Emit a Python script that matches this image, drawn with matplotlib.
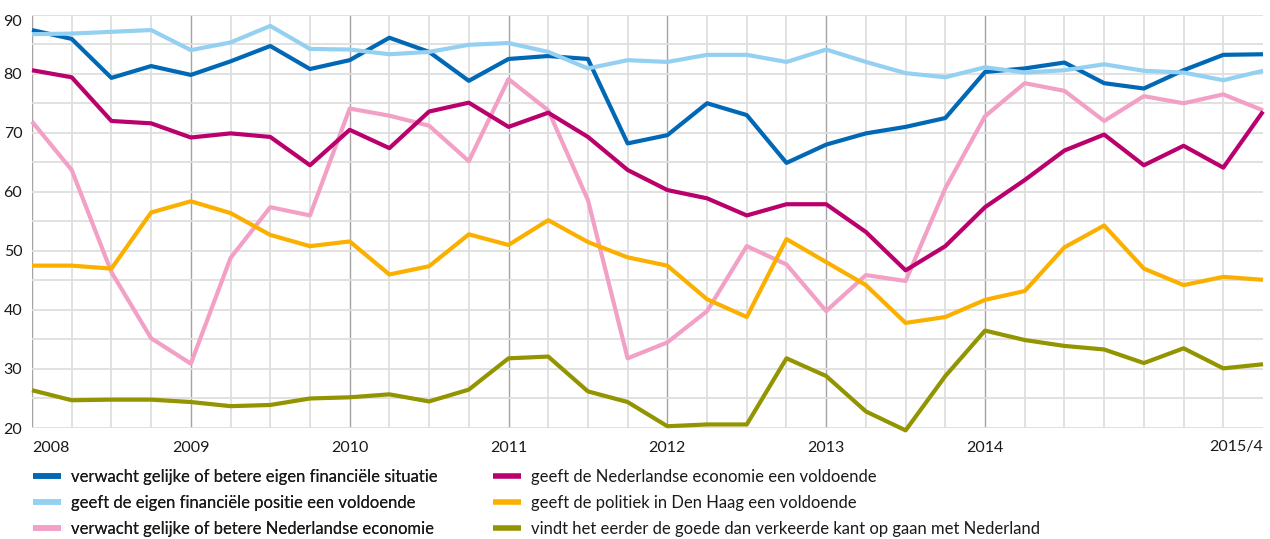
import numpy as np
import matplotlib
matplotlib.use('Agg')
from matplotlib import pyplot as plt
from matplotlib.lines import Line2D

plt.rcParams['font.family'] = ['Lato', 'DejaVu Sans']

# quarters 2008/1 .. 2015/4
periods = [f'{y}/{q}' for y in range(2008, 2016) for q in range(1, 5)]
tick_labels = ['2008', '2009', '2010', '2011', '2012', '2013', '2014', '2015/4']
tick_periods = ['2008/1', '2009/1', '2010/1', '2011/1', '2012/1', '2013/1', '2014/1', '2015/4']

eigen_situatie = [87.4, 85.9, 79.3, 81.3, 79.8, 82.1, 84.7, 80.8,
                  82.3, 86.1, 83.7, 78.8, 82.5, 83.0, 82.5, 68.2,
                  69.6, 75.0, 73.0, 64.9, 68.0, 69.9, 71.0, 72.5,
                  80.3, 80.9, 81.9, 78.4, 77.5, 80.6, 83.2, 83.3]
eigen_positie = [86.7, 86.8, 87.1, 87.4, 84.0, 85.3, 88.1, 84.2,
                 84.1, 83.3, 83.7, 84.9, 85.2, 83.7, 80.9, 82.3,
                 82.0, 83.2, 83.2, 82.0, 84.1, 82.0, 80.1, 79.4,
                 81.1, 80.2, 80.6, 81.6, 80.5, 80.2, 78.9, 80.5]
nl_economie_verwacht = [71.9, 63.7, 46.4, 35.2, 30.9, 48.8, 57.4, 56.0,
                        74.1, 72.9, 71.2, 65.2, 79.1, 73.8, 58.6, 31.8,
                        34.5, 39.8, 50.8, 47.7, 39.8, 45.9, 44.9, 60.6,
                        72.8, 78.4, 77.1, 72.0, 76.2, 75.0, 76.5, 73.8]
nl_economie_voldoende = [80.6, 79.4, 72.0, 71.6, 69.2, 69.9, 69.3, 64.5,
                         70.5, 67.4, 73.6, 75.1, 71.0, 73.4, 69.3, 63.7,
                         60.3, 58.9, 56.0, 57.9, 57.9, 53.2, 46.7, 50.8,
                         57.4, 62.0, 67.0, 69.7, 64.5, 67.8, 64.1, 73.6]
politiek = [47.5, 47.5, 47.0, 56.5, 58.4, 56.4, 52.7, 50.8,
            51.6, 46.0, 47.4, 52.8, 51.0, 55.2, 51.5, 48.9,
            47.5, 41.8, 38.8, 52.0, 48.1, 44.2, 37.8, 38.8,
            41.7, 43.2, 50.6, 54.3, 47.0, 44.2, 45.6, 45.1]
goede_kant = [26.4, 24.7, 24.8, 24.8, 24.4, 23.7, 23.9, 25.0,
              25.2, 25.7, 24.5, 26.5, 31.8, 32.1, 26.2, 24.4,
              20.3, 20.6, 20.6, 31.8, 28.8, 22.8, 19.6, 28.8,
              36.5, 34.9, 33.9, 33.3, 31.0, 33.5, 30.1, 30.8]

labels = [
    'verwacht gelijke of betere eigen financiële situatie',
    'geeft de eigen financiële positie een voldoende',
    'verwacht gelijke of betere Nederlandse economie',
    'geeft de Nederlandse economie een voldoende',
    'geeft de politiek in Den Haag een voldoende',
    'vindt het eerder de goede dan verkeerde kant op gaan met Nederland',
]
series = [eigen_situatie, eigen_positie, nl_economie_verwacht,
          nl_economie_voldoende, politiek, goede_kant]
colors = ['#0068b4', '#94d0f2', '#f2a0c6', '#b9006c', '#fbb000', '#929400']

grid_light = '#dedede'
grid_dark = '#a8a2a6'
text_col = '#1a1a1a'

fig = plt.figure(figsize=(12.7, 5.39), dpi=100)
ax = fig.add_axes([32 / 1270, 1 - 428 / 539, 1231 / 1270, 413.3 / 539])

x = np.arange(len(periods))
for vals, col in zip(series, colors):
    ax.plot(x, vals, color=col, lw=3, solid_capstyle='butt', clip_on=False, zorder=3)

ax.set_xlim(0, len(periods) - 1)
ax.set_ylim(20, 90)

# grid: light lines every quarter and every 5 points, darker line at each year
ax.set_xticks(x, minor=True)
ax.set_yticks(np.arange(20, 91, 10))
ax.set_yticks(np.arange(25, 90, 10), minor=True)
ax.grid(which='both', axis='y', color=grid_light, lw=1.3, zorder=0)
ax.grid(which='minor', axis='x', color=grid_light, lw=1.3, zorder=0)
year_pos = [periods.index(p) for p in tick_periods[:-1]]
ax.vlines(year_pos, 20, 90, color=grid_dark, lw=1.0, zorder=1)

tick_pos = [periods.index(p) for p in tick_periods]
ax.set_xticks(tick_pos)
ax.set_xticklabels(tick_labels)
xt = ax.get_xticklabels()
xt[0].set_ha('left')
xt[-1].set_ha('right')

ax.tick_params(axis='both', which='both', length=0, labelsize=11.5, labelcolor=text_col)
ax.tick_params(axis='x', pad=9)
ax.tick_params(axis='y', pad=7)
yt = ax.get_yticklabels()
for t in yt[:-1]:
    t.set_va('center_baseline')
yt[-1].set_va('top')
for s in ax.spines.values():
    s.set_visible(False)

# legend in two columns
handles = [Line2D([], [], color=c, lw=4, solid_capstyle='butt') for c in colors]
leg_kw = dict(loc='upper left', frameon=False, fontsize=12, borderpad=0,
              borderaxespad=0, handlelength=1.7, handletextpad=0.6,
              labelspacing=0.6, labelcolor=text_col)
leg1 = fig.legend(handles[:3], labels[:3], bbox_to_anchor=(33 / 1270, 1 - 469 / 539), **leg_kw)
fig.add_artist(leg1)
fig.legend(handles[3:], labels[3:], bbox_to_anchor=(493 / 1270, 1 - 469 / 539), **leg_kw)

fig.savefig('out.png', dpi=100)
